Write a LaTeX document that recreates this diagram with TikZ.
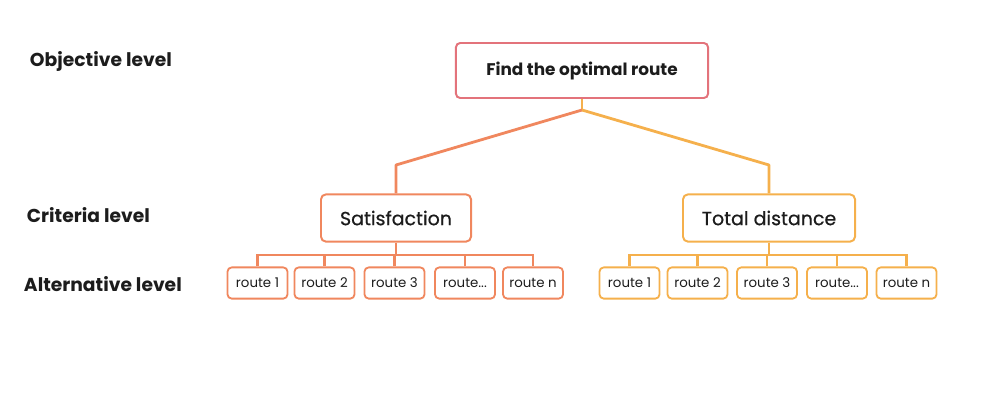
\documentclass[tikz,border=0pt]{standalone}
\usepackage{fontspec}
\setmainfont{Poppins}
\newfontfamily\medfont{Poppins}[FakeBold=0.6]
\usepackage{tikz}
\definecolor{MyP}{HTML}{E3737B}
\definecolor{MyO}{HTML}{F0875E}
\definecolor{MyY}{HTML}{F5B04C}
\definecolor{MyK}{HTML}{1C1C1C}
\usetikzlibrary{calc,positioning}
\tikzset{%
  link/.style={line width=2pt},
  sublink/.style={line width=1.5pt},
  goal box/.style={rectangle, rounded corners=3pt, draw=#1, line width=1.4pt, fill=white, text=MyK, minimum height=1.375cm, align=center, inner sep=0pt},
  crit box/.style={rectangle, rounded corners=3.5pt, draw=#1, line width=1.4pt, fill=white, text=MyK, minimum height=1.18cm, align=center, inner sep=0pt, font=\fontsize{13.5}{16}\selectfont\medfont},
  alt box/.style={rectangle, rounded corners=3pt, draw=#1, line width=1.3pt, fill=white, text=MyK, minimum width=1.5cm, minimum height=0.78cm, align=center, inner sep=0pt, font=\fontsize{9.5}{11}\selectfont},
  level/.style={anchor=west, text=MyK, font=\fontsize{13.3}{16}\selectfont\bfseries}
}
\begin{document}
\begin{tikzpicture}[x=0.025cm, y=-0.025cm]
 \useasboundingbox (0,0) rectangle (1004,404);

 % levels
 \node[level] (lobj) at (25,61) {Objective level};
 \node[level] (lcrit) at (22,215) {Criteria level};
 \node[level] (lalt) at (19,284) {Alternative level};

 % objective
 \node[goal box=MyP, minimum width=6.3cm, font=\fontsize{12}{14}\selectfont\bfseries] (goal) at (582,70.5) {Find the optimal route};

 % criteria
 \node[crit box=MyO, minimum width=3.75cm] (sat) at (396,218) {Satisfaction};
 \node[crit box=MyY, minimum width=4.3cm] (dist) at (769,218) {Total distance};

 % alternatives
 \node[alt box=MyO] (s1) at (257.5,283) {route 1};
 \node[alt box=MyO] (s2) at (324.5,283) {route 2};
 \node[alt box=MyO] (s3) at (394.5,283) {route 3};
 \node[alt box=MyO] (s4) at (465,283) {route...};
 \node[alt box=MyO] (s5) at (533,283) {route n};

 \node[alt box=MyY] (d1) at (629.5,283) {route 1};
 \node[alt box=MyY] (d2) at (697.5,283) {route 2};
 \node[alt box=MyY] (d3) at (767,283) {route 3};
 \node[alt box=MyY] (d4) at (837,283) {route...};
 \node[alt box=MyY] (d5) at (906.5,283) {route n};

 \coordinate (split) at (582,110);
 \coordinate (satbend) at (396,165);
 \coordinate (distbend) at (769,165);
 \coordinate (satbus) at (396,255);
 \coordinate (distbus) at (769,255);

 \draw[link, MyY] (goal.south) -- (split);
 \draw[link, MyO, line join=round] (split) -- (satbend) -- (sat.north);
 \draw[link, MyY, line join=round] (split) -- (distbend) -- (dist.north);

 \draw[sublink, MyO] (sat.south) -- (satbus);
 \draw[sublink, MyO] (s1.north) -- (s1.north |- satbus) -- (s5.north |- satbus) -- (s5.north);
 \draw[sublink, MyO] (s2.north) -- (s2.north |- satbus);
 \draw[sublink, MyO] (s3.north) -- (s3.north |- satbus);
 \draw[sublink, MyO] (s4.north) -- (s4.north |- satbus);

 \draw[sublink, MyY] (dist.south) -- (distbus);
 \draw[sublink, MyY] (d1.north) -- (d1.north |- distbus) -- (d5.north |- distbus) -- (d5.north);
 \draw[sublink, MyY] (d2.north) -- (d2.north |- distbus);
 \draw[sublink, MyY] (d3.north) -- (d3.north |- distbus);
 \draw[sublink, MyY] (d4.north) -- (d4.north |- distbus);

\end{tikzpicture}
\end{document}
